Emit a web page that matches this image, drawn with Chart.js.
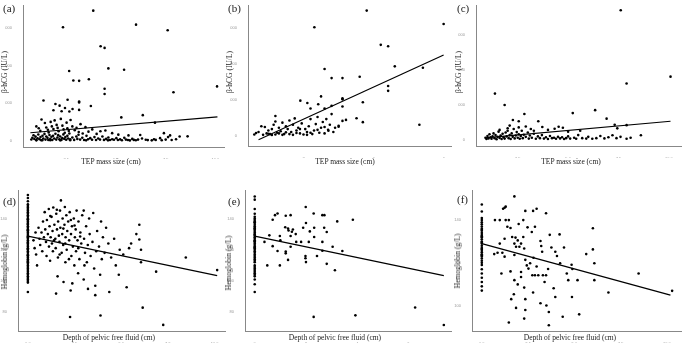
<!DOCTYPE html>
<html>
<head>
<meta charset="utf-8">
<script src="https://cdn.jsdelivr.net/npm/chart.js@4"></script>
<style>
  body { margin: 0; background: #fff; width: 685px; height: 352px; position: relative; overflow: hidden;
         font-family: "Liberation Serif", "DejaVu Serif", serif; color: #222; }
  canvas { position: absolute; }
  .lbl { position: absolute; font-size: 11px; line-height: 11px; }
  .xt { position: absolute; font-size: 7.5px; line-height: 8px; white-space: nowrap; transform: translateX(-50%); }
  .yt { position: absolute; font-size: 7.5px; line-height: 8px; white-space: nowrap; transform: translate(-50%, -50%) rotate(-90deg); }
</style>
</head>
<body>
<canvas id="pa"></canvas><canvas id="pb"></canvas><canvas id="pc"></canvas>
<canvas id="pd"></canvas><canvas id="pe"></canvas><canvas id="pf"></canvas>

<div class="lbl" style="left:3px;top:3px">(a)</div>
<div class="lbl" style="left:228px;top:3px">(b)</div>
<div class="lbl" style="left:457px;top:3px">(c)</div>
<div class="lbl" style="left:3px;top:196px">(d)</div>
<div class="lbl" style="left:228px;top:196px">(e)</div>
<div class="lbl" style="left:457px;top:194px">(f)</div>

<div class="yt" style="left:5px;top:72px">β-hCG (IU/L)</div>
<div class="yt" style="left:230px;top:72px">β-hCG (IU/L)</div>
<div class="yt" style="left:459px;top:72px">β-hCG (IU/L)</div>
<div class="yt" style="left:5px;top:262px">Hemoglobin (g/L)</div>
<div class="yt" style="left:229px;top:263px">Hemoglobin (g/L)</div>
<div class="yt" style="left:458px;top:261px">Hemoglobin (g/L)</div>

<div class="xt" style="left:111px;top:158px">TEP mass size (cm)</div>
<div class="xt" style="left:345px;top:158px">TEP mass size (cm)</div>
<div class="xt" style="left:571px;top:158px">TEP mass size (cm)</div>
<div class="xt" style="left:109px;top:334px">Depth of pelvic free fluid (cm)</div>
<div class="xt" style="left:335px;top:334px">Depth of pelvic free fluid (cm)</div>
<div class="xt" style="left:570px;top:334px">Depth of pelvic free fluid (cm)</div>

<script>
// ---- data: [x, y] pairs ----
// (a) TEP mass size vs beta-hCG, all cases
const hcgA = [
  [3.86,17350],[2.34,15130],[6.01,15480],[7.6,14740],[4.23,12600],[4.43,12380],[4.62,9640],[5.41,9460],
  [2.65,9290],[2.86,8020],[3.15,7980],[3.64,8200],[4.43,6930],[4.43,6230],[7.89,6450],[10.08,7240],
  [1.36,5360],[2.57,5450],[1.96,4880],[2.17,4670],[2.44,4360],[2.82,4230],[3.15,5230],[3.15,5100],
  [3.74,4620],[1.86,4050],[2.27,3920],[2.66,3880],[3.15,4100],[1.26,2830],[5.27,3100],[6.35,3400],[6.96,2400],
  [1.0,1900],[1.12,1650],[1.2,1300],[1.43,2350],[1.5,1750],[1.58,1450],[1.62,1100],[1.72,2500],[1.78,1900],
  [1.86,1550],[1.92,2700],[2.02,2100],[2.07,1700],[2.12,1250],[2.23,2900],[2.31,2000],[2.37,1500],[2.43,1050],
  [2.52,2400],[2.56,1650],[2.63,1300],[2.72,2750],[2.81,1900],[2.93,1400],[3.02,1700],[3.13,1150],[3.22,2200],
  [3.33,950],[3.47,1800],[3.62,1200],[3.81,1500],[4.03,900],[4.22,1250],[4.47,1350],[4.81,1000],[5.12,800],
  [5.63,700],[6.22,750],[7.41,1000],[7.72,700],[8.2,550],
  [0.75,150],[0.8,380],[0.86,720],[0.9,230],[0.96,540],[1.0,90],[1.06,320],[1.1,820],[1.16,190],[1.21,470],
  [1.25,50],[1.31,650],[1.35,280],[1.41,900],[1.46,140],[1.5,560],[1.56,370],[1.6,100],[1.66,760],[1.7,230],
  [1.76,510],[1.8,80],[1.84,640],[1.9,290],[1.96,920],[2.0,140],[2.06,420],[2.1,730],[2.16,190],[2.2,560],
  [2.26,100],[2.3,330],[2.36,830],[2.4,240],[2.46,470],[2.5,120],[2.56,640],[2.6,280],[2.66,960],[2.7,170],
  [2.81,420],[2.9,100],[3.01,560],[3.06,230],[3.12,780],[3.2,140],[3.31,380],[3.4,90],[3.52,640],[3.6,190],
  [3.71,330],[3.8,120],[3.92,470],[4.0,80],[4.11,280],[4.2,140],[4.32,560],[4.4,100],[4.51,230],[4.62,420],
  [4.7,80],[4.81,190],[4.9,120],[5.02,330],[5.1,90],[5.21,170],[5.3,60],[5.42,380],[5.5,140],[5.6,80],
  [5.82,230],[5.9,100],[6.0,60],[6.11,140],[6.31,280],[6.5,120],[6.6,70],[6.91,190],[7.0,100],[7.22,330],
  [7.3,50],[7.5,140],[7.62,470],[7.8,80],[8.02,190],[8.6,570],[1.0,40],[1.3,60],[1.7,50],[2.2,40],[2.7,60],
  [3.5,40],[4.6,40],[5.7,30],[6.8,40]
];
const fitA = [[0.7,1050],[10.1,3180]];
const xTicksA = [2.5,5,7.5,10], xLabelsA = ['2.5','5.0','7.5','10.0'];
const yTicksA = [0,5000,10000,15000], yLabelsA = ['0','5000','10000','15000'];

// (b) TEP mass size vs beta-hCG, first group
const hcgB = [
  [3.80,17460],[5.99,15600],[2.31,15140],[4.20,12680],[4.41,12490],[4.60,9670],[5.40,9480],[2.60,9300],
  [2.80,8030],[3.11,8030],[3.60,8210],[4.41,6930],[4.41,6250],[5.30,1500],[1.91,4880],[2.11,4560],
  [2.20,3790],[2.42,4380],[2.50,5470],[3.11,5200],[3.11,5060],[3.11,4060],[3.69,4650],[2.60,3790],
  [2.80,4150],[3.11,2050],[3.21,2190],[3.51,2420],[3.69,1870],[3.0,1370],[3.0,1230],[2.71,680],
  [1.2,2740],[1.2,1960],
  [0.72,500],[0.8,1300],[0.9,1200],[0.95,300],[1.0,700],[1.05,200],[1.1,900],[1.15,1500],[1.25,400],
  [1.3,1100],[1.35,600],[1.4,1800],[1.45,200],[1.5,1300],[1.55,900],[1.6,2100],[1.65,500],[1.7,1500],
  [1.75,2400],[1.8,700],[1.85,1100],[1.9,300],[1.95,1700],[2.05,900],[2.1,500],[2.15,1300],[2.2,2300],
  [2.25,200],[2.3,700],[2.35,1600],[2.4,2600],[2.45,400],[2.5,1100],[2.55,1900],[2.6,300],[2.65,2300],
  [2.7,800],[2.75,1500],[2.85,500],[2.9,1100],[0.6,150],[0.65,350],[0.85,100],[1.0,250],[1.1,80],
  [1.2,150],[1.3,300],[1.4,100],[1.5,450],[1.6,200],[1.7,100],[1.8,350],[1.9,900],[2.0,150],[2.1,100],
  [2.2,400],[2.4,800],[2.6,1200],[2.8,3000]
];
const fitB = [[0.72,-590],[5.99,11260]];
const xTicksB = [2,4,6], xLabelsB = ['2','4','6'];
const yTicksB = [0,5000,10000,15000], yLabelsB = ['0','5000','10000','15000'];

// (c) TEP mass size vs beta-hCG, second group
const hcgC = [
  [7.61,14890],[10.08,7240],[7.90,6450],[1.37,5290],[1.85,3980],[2.83,2930],[5.23,3040],[6.34,3380],
  [6.91,2400],[2.26,2250],[2.55,2100],[3.52,2100],[2.55,1390],[3.15,1200],[3.72,1430],[4.33,1240],
  [4.53,1460],[4.74,1350],[7.31,1690],[7.44,1280],[7.9,1650],[2.1,1600],[2.9,1500],[3.3,1000],
  [1.6,1100],[2.0,1300],[4.0,1100],[5.0,900],[5.6,1000],
  [0.9,200],[0.95,50],[1.0,400],[1.05,120],[1.1,600],[1.15,250],[1.2,80],[1.25,350],[1.3,700],[1.35,150],
  [1.4,500],[1.45,30],[1.5,300],[1.55,900],[1.6,180],[1.65,450],[1.7,60],[1.75,650],[1.8,250],[1.85,100],
  [1.9,800],[1.95,350],[2.0,1000],[2.05,150],[2.1,500],[2.15,50],[2.2,700],[2.25,300],[2.3,1200],[2.35,120],
  [2.4,450],[2.45,850],[2.5,200],[2.55,600],[2.6,80],[2.65,400],[2.7,1000],[2.75,150],[2.8,550],[2.9,300],
  [3.0,800],[3.05,100],[3.1,450],[3.2,200],[3.3,650],[3.4,80],[3.5,350],[3.6,150],[3.7,500],[3.8,100],
  [3.9,250],[4.0,60],[4.1,400],[4.2,150],[4.3,200],[4.4,80],[4.5,300],[4.6,120],[4.7,250],[4.8,60],
  [4.9,150],[5.0,350],[5.1,100],[5.3,200],[5.4,80],[5.5,500],[5.7,150],[5.9,100],[6.0,300],[6.2,80],
  [6.4,150],[6.6,400],[6.8,120],[7.0,250],[7.2,490],[7.4,150],[7.6,300],[7.9,80],[8.1,200],[8.61,490]
];
const fitC = [[0.88,190],[10.08,2100]];
const xTicksC = [2.5,5,7.5,10], xLabelsC = ['2.5','5.0','7.5','10.0'];
const yTicksC = [0,4000,8000,12000], yLabelsC = ['0','4000','8000','12000'];

// (d) pelvic free fluid depth vs hemoglobin, all cases
const hbD = [
  [0,155],[0,153],[0,151],[0,149],[0,148],[0,147],[0,146],[0,145],[0,144],[0,143],[0,142],[0,141],[0,140],
  [0,139],[0,138],[0,137],[0,136],[0,135],[0,134],[0,133],[0,132],[0,131],[0,130],[0,129],[0,128],[0,127],
  [0,126],[0,125],[0,124],[0,123],[0,122],[0,121],[0,120],[0,119],[0,118],[0,117],[0,116],[0,115],[0,114],
  [0,113],[0,112],[0,111],[0,110],[0,109],[0,108],[0,107],[0,106],[0,105],[0,104],[0,103],[0,102],[0,101],
  [0,100],[0,99],[0,93],[0,139.5],[0,136.5],[0,132.5],[0,128.5],[0,124.5],[0,120.5],[0,116.5],[0,112.5],
  [0.3,126],[0.36,121],[0.41,131],[0.44,117],[0.49,110],[0.57,134],[0.62,127],[0.66,123],[0.73,131],[0.77,119],
  [0.81,138],[0.86,128],[0.9,144],[0.93,133],[0.97,125],[1.02,139],[1.0,116],[1.07,130],[1.12,146],[1.13,122],
  [1.16,135],[1.22,128],[1.19,113],[1.27,141],[1.32,132],[1.29,124],[1.36,147],[1.34,119],[1.42,136],[1.47,127],
  [1.52,143],[1.49,121],[1.51,92],[1.56,133],[1.59,103],[1.62,138],[1.61,115],[1.66,129],[1.72,145],[1.69,125],
  [1.77,151.5],[1.74,134],[1.81,118],[1.86,140],[1.84,130],[1.91,99.4],[1.89,123],[1.96,136],[1.98,147.3],
  [2.02,128],[2.01,112],[2.06,142],[2.11,132],[2.08,120],[2.16,138],[2.21,126],[2.24,144],[2.26,77],[2.29,94],
  [2.31,130],[2.33,116],[2.38,98.5],[2.36,135],[2.41,122],[2.46,140],[2.52,128],[2.49,110],[2.56,133],[2.61,145],
  [2.58,119],[2.66,126],[2.71,138],[2.69,105],[2.76,114],[2.81,131],[2.86,124],[2.91,142],[2.99,145],[2.99,101],
  [3.01,127],[3.03,110],[3.06,118],[3.12,135],[3.16,112],[3.22,95],[3.21,123],[3.31,130],[3.28,140],[3.36,116],
  [3.5,143.5],[3.46,125],[3.55,108],[3.61,91],[3.61,97],[3.66,119],[3.71,132],[3.81,122],[3.87,104],[3.89,78],
  [3.92,138],[3.96,114],[4.02,128],[4.11,118],[4.19,134],[4.31,124],[4.36,93],[4.46,115],[4.62,127],[4.71,110],
  [4.87,104],[4.92,120],[5.11,117],[5.29,96],[5.42,121],[5.53,124],[5.81,130],[5.97,136],[5.97,126.5],
  [6.06,120],[6.06,112],[6.15,83],[6.87,106],[7.25,72],[8.46,115],[10.14,107],[1.2,141.5],[1.55,145.5],
  [1.9,133.5],[2.3,139],[2.5,135.5],[2.8,128.5],[1.4,126],[2.0,124],[2.7,121],[1.7,117],[2.2,114]
];
const fitD = [[0,128.75],[10.14,103.5]];
const xTicksD = [0,2.5,5,7.5,10], xLabelsD = ['0.0','2.5','5.0','7.5','10.0'];
const yTicksD = [80,100,120,140], yLabelsD = ['80','100','120','140'];

// (e) pelvic free fluid depth vs hemoglobin, first group
const hbE = [
  [0,154],[0,152],[0,146],[0,143],[0,141],[0,140],[0,139],[0,138],[0,137],[0,136],[0,135],[0,134],[0,133],
  [0,132],[0,131],[0,130],[0,129],[0,128],[0,127],[0,126],[0,125],[0,124],[0,123],[0,122],[0,121],[0,120],
  [0,119],[0,118],[0,117],[0,116],[0,115],[0,114],[0,112],[0,110],[0,108],[0,106],[0,105],[0,104],[0,103],
  [0,101],[0,98],[0,93],[0,137.5],[0,133.5],[0,129.5],[0,125.5],[0,121.5],[0,113],[0,109],[0,107],
  [1.99,147.3],[2.30,143.1],[2.64,142.1],[2.72,142.1],[3.22,138.1],[3.83,139.2],[1.40,142.1],[1.21,141.7],
  [0.89,143.1],[0.79,142.1],[0.70,139.2],[2.0,137.1],[1.89,134],[2.32,134],[2.71,134],[1.19,134.4],
  [1.32,132.3],[1.49,132.9],[2.15,131.7],[2.81,131.3],[1.3,133.5],[1.45,131.5],[1.6,130],[0.57,129.2],
  [0.98,128.8],[1.40,128.8],[1.81,125],[1.62,125],[2.11,125],[2.32,128.1],[2.64,125],[0.38,125],
  [0.70,122.3],[1.00,126],[1.40,121.9],[1.21,117.7],[1.21,118.8],[0.89,119.2],[1.98,116.0],[1.98,114.6],
  [2.43,116.0],[2.64,119.4],[3.04,121.9],[3.42,119.2],[2.81,111],[3.13,106.9],[2.0,112.1],[1.30,113.5],
  [0.98,110],[0.49,110],[2.30,77.1],[3.93,78.1],[6.26,83.1],[7.38,71.9]
];
const fitE = [[0,128.75],[7.38,103.5]];
const xTicksE = [0,2,4,6], xLabelsE = ['0','2','4','6'];
const yTicksE = [80,100,120,140], yLabelsE = ['80','100','120','140'];

// (f) pelvic free fluid depth vs hemoglobin, second group
const hbF = [
  [0,147.3],[0,144],[0,141],[0,140],[0,139],[0,138],[0,137],[0,136],[0,135],[0,134],[0,133],[0,132],[0,131],
  [0,130],[0,129],[0,128],[0,127],[0,126],[0,125],[0,124],[0,123],[0,122],[0,121],[0,120],[0,119],[0,117],
  [0,115],[0,113],[0,111],[0,109],[0,107],[0,135.5],[0,132.5],[0,129.5],[0,126.5],[0,123.5],
  [1.76,151.1],[2.35,144.3],[2.96,145.3],[2.77,144.3],[3.47,143.2],[1.15,145.3],[1.23,145.8],[1.29,146.3],
  [0.71,140],[0.97,140],[1.29,140],[1.46,140],[2.24,140],[1.99,138.2],[1.38,136.9],[1.55,136.3],[2.47,136.6],
  [2.87,136.9],[2.70,134.4],[6.0,136.2],[4.20,133.3],[3.67,133.1],[1.64,132.1],[1.82,131.8],[1.23,131.3],
  [2.24,132.1],[1.94,130.5],[2.12,129.0],[1.76,129.0],[3.17,130.2],[3.21,127.9],[0.97,129.0],[2.03,127.5],
  [2.29,126.7],[1.85,127.5],[3.76,127.2],[4.44,127.2],[3.97,125.2],[4.06,123.2],[3.26,125.2],[6.0,126.3],
  [5.64,124.1],[1.11,124.7],[0.85,124.7],[0.67,124.1],[1.23,122.9],[1.76,123.7],[2.79,122.4],[2.35,121.4],
  [2.61,119.8],[2.43,118.8],[2.52,117.3],[2.96,118.3],[3.58,117.1],[4.23,119.8],[4.85,119.1],[4.89,117.1],
  [6.08,119.8],[8.47,115.0],[4.59,115.0],[1.06,115.0],[1.55,116.0],[2.12,115.7],[2.73,114.2],[2.87,114.2],
  [3.05,114.2],[3.3,114.2],[3.47,114.2],[4.67,111.9],[5.17,111.9],[6.08,111.9],[1.76,111.9],[2.12,113.4],
  [1.94,109.9],[2.29,108.4],[2.77,106.1],[3.39,111],[3.88,108.1],[3.97,104],[4.87,104],[6.84,106.1],
  [1.73,105.3],[1.59,103],[2.35,103],[3.17,101.1],[3.49,100],[1.85,98.9],[2.35,97.9],[3.62,97.0],
  [5.26,95.9],[4.37,94.8],[2.29,93.9],[1.46,92.1],[3.62,90.8],[10.28,106.9]
];
const fitF = [[0,129.0],[10.19,104.9]];
const xTicksF = [0,2.5,5,7.5,10], xLabelsF = ['0.0','2.5','5.0','7.5','10.0'];
const yTicksF = [100,120,140], yLabelsF = ['100','120','140'];

// ---- drawing ----
const Y_W = 18, X_H = 12, PAD_T = 2;

function panel(id, box, pts, fit, xr, yr, xt, xl, yt, yl) {
  const cv = document.getElementById(id);
  const w = box.r - box.l + Y_W, h = box.b - box.t + X_H + PAD_T;
  cv.width = w; cv.height = h;
  cv.style.left = (box.l - Y_W) + 'px';
  cv.style.top = (box.t - PAD_T) + 'px';
  cv.style.width = w + 'px'; cv.style.height = h + 'px';
  const tickFont = { family: 'Liberation Sans', size: 4 };
  new Chart(cv, {
    type: 'scatter',
    data: {
      datasets: [
        { data: pts.map(p => ({ x: p[0], y: p[1] })), pointRadius: 1.3, pointBackgroundColor: '#000',
          pointBorderWidth: 0, backgroundColor: '#000' },
        { data: fit.map(p => ({ x: p[0], y: p[1] })), showLine: true, pointRadius: 0,
          borderColor: '#000', borderWidth: 1.2 }
      ]
    },
    options: {
      responsive: false, animation: false, devicePixelRatio: 1,
      layout: { padding: { top: PAD_T, left: 0, right: 0, bottom: 0 } },
      plugins: { legend: { display: false }, tooltip: { enabled: false } },
      scales: {
        x: {
          type: 'linear', min: xr[0], max: xr[1],
          afterBuildTicks: s => { s.ticks = xt.map(v => ({ value: v })); },
          afterFit: s => { s.height = X_H; },
          ticks: { font: tickFont, color: '#999', padding: 2, maxRotation: 0, minRotation: 0, autoSkip: false,
                   callback: v => { const i = xt.indexOf(v); return i < 0 ? '' : xl[i]; } },
          grid: { display: false }, border: { color: '#888', width: 1 }
        },
        y: {
          type: 'linear', min: yr[0], max: yr[1],
          afterBuildTicks: s => { s.ticks = yt.map(v => ({ value: v })); },
          afterFit: s => { s.width = Y_W; },
          ticks: { font: tickFont, color: '#999', padding: 3, autoSkip: false,
                   callback: v => { const i = yt.indexOf(v); return i < 0 ? '' : yl[i]; } },
          grid: { display: false }, border: { color: '#888', width: 1 }
        }
      }
    }
  });
}

panel('pa', { l: 23, r: 228, t: 2, b: 147 }, hcgA, fitA, [0.33, 10.43], [-850, 18050], xTicksA, xLabelsA, yTicksA, yLabelsA);
panel('pb', { l: 248, r: 455, t: 2, b: 146 }, hcgB, fitB, [0.42, 6.2], [-1460, 18190], xTicksB, xLabelsB, yTicksB, yLabelsB);
panel('pc', { l: 476, r: 685, t: 2, b: 146 }, hcgC, fitC, [0.43, 10.6], [-754, 15456], xTicksC, xLabelsC, yTicksC, yLabelsC);
panel('pd', { l: 18, r: 229, t: 187, b: 331 }, hbD, fitD, [-0.53, 10.56], [68.1, 157.9], xTicksD, xLabelsD, yTicksD, yLabelsD);
panel('pe', { l: 245, r: 455, t: 187, b: 331 }, hbE, fitE, [-0.38, 7.66], [68.1, 157.9], xTicksE, xLabelsE, yTicksE, yLabelsE);
panel('pf', { l: 472, r: 685, t: 187, b: 331 }, hbF, fitF, [-0.53, 10.76], [88.1, 153.9], xTicksF, xLabelsF, yTicksF, yLabelsF);
</script>
</body>
</html>
